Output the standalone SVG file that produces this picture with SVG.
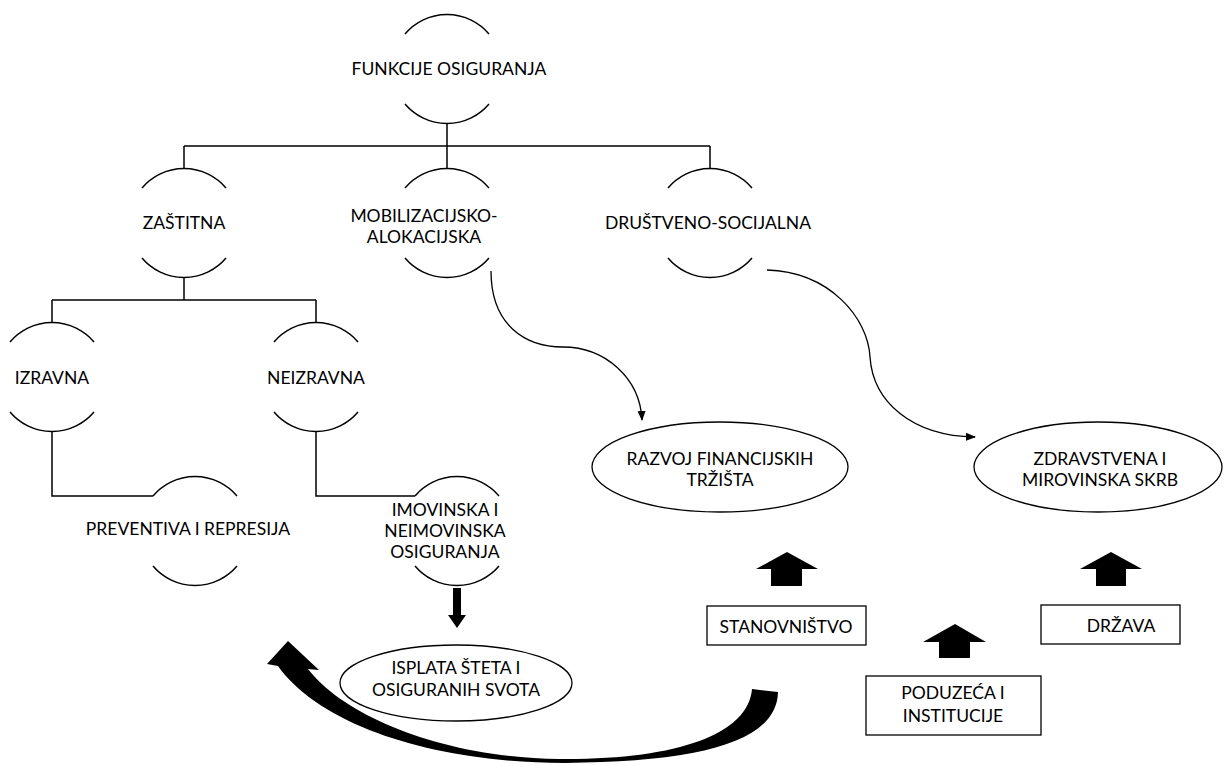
<svg xmlns="http://www.w3.org/2000/svg" width="1224" height="765" viewBox="0 0 1224 765">
<defs>
<style>
text{font-family:Lato,"Open Sans","Liberation Sans",sans-serif;font-size:17.5px;fill:#000;text-anchor:middle}
.arc{fill:none;stroke:#000;stroke-width:1.5}
.ln{fill:none;stroke:#000;stroke-width:1.5}
.cv{fill:none;stroke:#000;stroke-width:1.3}
.box{fill:#fff;stroke:#000;stroke-width:1.3}
.blk{fill:#000;stroke:none}
</style>
<marker id="ah" markerWidth="10" markerHeight="10" refX="9" refY="5" orient="auto" markerUnits="userSpaceOnUse">
<path d="M0,1 L10,5 L0,9 Z" fill="#000"/>
</marker>
</defs>
<rect width="1224" height="765" fill="#fff"/>

<g id="connectors">
<path class="ln" d="M447,124 V146 M184,146 H710 M184,146 V168 M447,146 V168 M710,146 V168"/>
<path class="ln" d="M184,278 V300 M52,300 H316 M52,300 V322 M316,300 V322"/>
<path class="ln" d="M52,432 V496 H153"/>
<path class="ln" d="M316,432 V496 H415"/>
<path class="cv" marker-end="url(#ah)" d="M491,271 C491,325 525,347 563,347 C605,347 640,378 642,420"/>
<path class="cv" marker-end="url(#ah)" d="M767,270 C830,272 868,318 870,357 C873,402 912,436 975,437"/>
<path class="blk" d="M453,588 H461 V615 H466 L457,628 L448,615 H453 Z"/>
<path class="blk" d="M778,692 C777,742 700,762 565,763 C440,763 322,728 278,666 L267,664 L288,641 L319,670 L308,669 C345,717 445,758 560,759 C675,760 748,735 752,689 Z"/>
<path class="blk" d="M787,552 L818,569 H802 V586 H771 V569 H756 Z"/>
<path class="blk" d="M955,624 L986,642 H970 V658 H939 V642 H923 Z"/>
<path class="blk" d="M1111,552 L1142,569 H1126 V586 H1096 V569 H1080 Z"/>
</g>

<g id="n-funkcije">
<path class="arc" d="M405,34 A55,55 0 0 1 489,34 M405,104 A55,55 0 0 0 489,104"/>
<text x="449" y="75">FUNKCIJE OSIGURANJA</text>
</g>
<g id="n-zastitna">
<path class="arc" d="M142,188 A55,55 0 0 1 226,188 M142,258 A55,55 0 0 0 226,258"/>
<text x="184" y="229">ZAŠTITNA</text>
</g>
<g id="n-mobilizacijsko">
<path class="arc" d="M405,188 A55,55 0 0 1 489,188 M405,258 A55,55 0 0 0 489,258"/>
<text x="424" y="222">MOBILIZACIJSKO-</text>
<text x="424" y="243">ALOKACIJSKA</text>
</g>
<g id="n-drustveno">
<path class="arc" d="M668,188 A55,55 0 0 1 752,188 M668,258 A55,55 0 0 0 752,258"/>
<text x="708" y="229">DRUŠTVENO-SOCIJALNA</text>
</g>
<g id="n-izravna">
<path class="arc" d="M10,342 A55,55 0 0 1 94,342 M10,412 A55,55 0 0 0 94,412"/>
<text x="52" y="384">IZRAVNA</text>
</g>
<g id="n-neizravna">
<path class="arc" d="M274,342 A55,55 0 0 1 358,342 M274,412 A55,55 0 0 0 358,412"/>
<text x="316" y="384">NEIZRAVNA</text>
</g>
<g id="n-preventiva">
<path class="arc" d="M153,496 A55,55 0 0 1 237,496 M153,566 A55,55 0 0 0 237,566"/>
<text x="188" y="535">PREVENTIVA I REPRESIJA</text>
</g>
<g id="n-imovinska">
<path class="arc" d="M415,496 A55,55 0 0 1 499,496 M415,566 A55,55 0 0 0 499,566"/>
<text x="445" y="516">IMOVINSKA I</text>
<text x="445" y="537">NEIMOVINSKA</text>
<text x="445" y="558">OSIGURANJA</text>
</g>
<g id="n-isplata">
<ellipse class="box" cx="456" cy="683" rx="116" ry="38"/>
<text x="456" y="674">ISPLATA ŠTETA I</text>
<text x="456" y="696">OSIGURANIH SVOTA</text>
</g>
<g id="n-razvoj">
<ellipse class="box" cx="720" cy="467" rx="128" ry="45"/>
<text x="720" y="465">RAZVOJ FINANCIJSKIH</text>
<text x="720" y="486">TRŽIŠTA</text>
</g>
<g id="n-zdravstvena">
<ellipse class="box" cx="1098" cy="467" rx="124" ry="45"/>
<text x="1100" y="465">ZDRAVSTVENA I</text>
<text x="1100" y="486">MIROVINSKA SKRB</text>
</g>
<g id="n-stanovnistvo">
<rect class="box" x="707" y="606" width="159" height="39"/>
<text x="786" y="633">STANOVNIŠTVO</text>
</g>
<g id="n-poduzeca">
<rect class="box" x="866" y="676" width="175" height="59"/>
<text x="953" y="699">PODUZEĆA I</text>
<text x="953" y="722">INSTITUCIJE</text>
</g>
<g id="n-drzava">
<rect class="box" x="1041" y="605" width="139" height="39"/>
<text x="1121" y="632">DRŽAVA</text>
</g>
</svg>
